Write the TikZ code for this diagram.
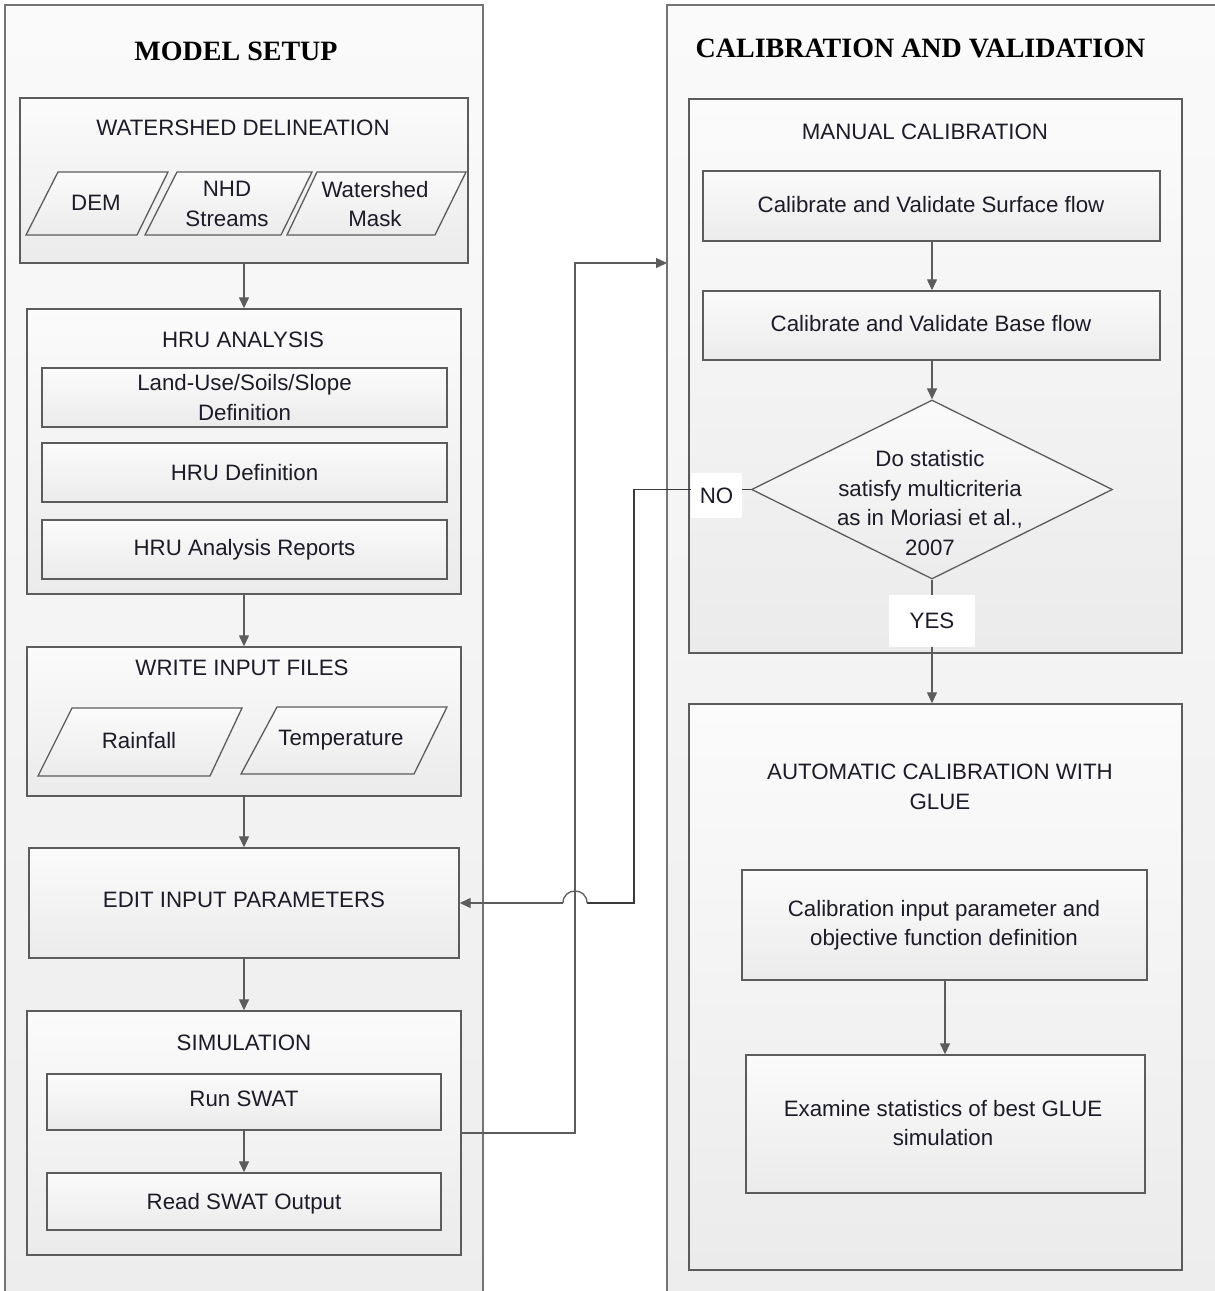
\documentclass[tikz,border=0pt]{standalone}
\usepackage{fontspec}
\setmainfont{Liberation Sans}
\newfontfamily\ttlfont{Liberation Serif}
\usetikzlibrary{arrows.meta,shapes.geometric}
\definecolor{ln}{HTML}{5C5C5C}
\definecolor{dk}{HTML}{3A3A3A}
\definecolor{txtc}{HTML}{1C1C28}
\definecolor{gtop}{HTML}{FBFBFB}
\definecolor{gbot}{HTML}{EBEBEB}
\definecolor{otop}{HTML}{FAFAFA}
\definecolor{obot}{HTML}{EDEDED}
\newcommand\mkbox[6][box]{%
  \node[#1, minimum width={#5-#3}, minimum height={#6-#4}] (#2) at ({(#3+#5)/2},{(#4+#6)/2}) {};}
\begin{document}
\begin{tikzpicture}[x=1pt,y=-1pt,
  box/.style={draw=ln, line width=1.4pt, top color=gtop, bottom color=gbot, inner sep=0pt, shape=rectangle},
  outer/.style={draw=ln!85, line width=1.4pt, top color=otop, bottom color=obot},
  para/.style={draw=ln, line width=1.3pt, top color=gtop, bottom color=gbot},
  txt/.style={text=txtc, font=\fontsize{22.3}{29.5}\selectfont, align=center, inner sep=0pt},
  ttl/.style={text=black, font=\ttlfont\bfseries\fontsize{28}{32}\selectfont, inner sep=0pt},
  arr/.style={draw=ln, line width=1.3pt, -{Triangle[length=11pt,width=10pt]}},
  plain/.style={draw=ln, line width=1.3pt},
  noln/.style={draw=dk, line width=1.3pt},
  lbl/.style={fill=white, text=txtc, font=\fontsize{22.3}{26}\selectfont, inner sep=0pt},
  dia/.style={draw=ln, line width=1.3pt, shape=diamond, inner sep=0pt, top color=gtop, bottom color=gbot}
]
\useasboundingbox (0,0) rectangle (1215,1291);
\clip (0,0) rectangle (1215,1291);
\fill[white] (0,0) rectangle (1215,1291);

% outer containers
\path[outer] (5,1310) -- (5,5) -- (483,5) -- (483,1310);
\path[outer] (667,1310) -- (667,5) -- (1230,5) -- (1230,1310);
\node[ttl] (msT) at (236,51) {MODEL SETUP};
\node[ttl] (cvT) at (920.5,48) {CALIBRATION AND VALIDATION};

% ---------------- left column
\mkbox{wd}{20}{98}{468}{263}
\node[txt] (wdT) at (243,128) {WATERSHED DELINEATION};
\path[para] (26,235) -- (137,235) -- (168,172) -- (58,172) -- cycle;
\node[txt] (dem) at (96,203) {DEM};
\path[para] (145,235) -- (281,235) -- (312,172) -- (177,172) -- cycle;
\node[txt] (nhd) at (227,204) {NHD\\Streams};
\path[para] (287,235) -- (435,235) -- (466,172) -- (317,172) -- cycle;
\node[txt] (msk) at (375,204) {Watershed\\Mask};

\mkbox{hru}{27}{309}{461}{594}
\node[txt] (hruT) at (243,340) {HRU ANALYSIS};
\mkbox{lus}{42}{368}{447}{427}
\node[txt] at (lus.center) {Land-Use/Soils/Slope\\Definition};
\mkbox{hdef}{42}{443}{447}{502}
\node[txt] at (hdef.center) {HRU Definition};
\mkbox{hrep}{42}{520}{447}{579}
\node[txt] at (hrep.center) {HRU Analysis Reports};

\mkbox{wif}{27}{647}{461}{796}
\node[txt] (wifT) at (242,668) {WRITE INPUT FILES};
\path[para] (38,776) -- (210,776) -- (242,708) -- (72,708) -- cycle;
\node[txt] (rain) at (139,741) {Rainfall};
\path[para] (241,774) -- (414,774) -- (447,707) -- (277,707) -- cycle;
\node[txt] (temp) at (341,740) {Temperature};

\mkbox{eip}{29}{848}{459}{958}
\node[txt] at (244,900) {EDIT INPUT PARAMETERS};

\mkbox{sim}{27}{1011}{461}{1255}
\node[txt] (simT) at (244,1043) {SIMULATION};
\mkbox{run}{47}{1074}{441}{1130}
\node[txt] at (244,1099) {Run SWAT};
\mkbox{read}{47}{1173}{441}{1230}
\node[txt] at (244,1204) {Read SWAT Output};

\draw[arr] (wd.south) -- (hru.north);
\draw[arr] (hru.south) -- (wif.north);
\draw[arr] (wif.south) -- (eip.north);
\draw[arr] (eip.south) -- (sim.north);
\draw[arr] (run.south) -- (read.north);

% ---------------- right column
\mkbox{man}{689}{99}{1182}{653}
\node[txt] (manT) at (925,132) {MANUAL CALIBRATION};
\mkbox{sf}{703}{171}{1160}{241}
\node[txt] at (931,205) {Calibrate and Validate Surface flow};
\mkbox{bf}{703}{291}{1160}{360}
\node[txt] at (931,324) {Calibrate and Validate Base flow};
\node[dia, minimum width=361pt, minimum height=179pt] (dia) at (932,489.5) {};
\node[txt] (diaT) at (930,503) {Do statistic\\satisfy multicriteria\\as in Moriasi et al.,\\2007};

\mkbox{auto}{689}{704}{1182}{1270}
\node[txt] (autoT) at (940,787) {AUTOMATIC CALIBRATION WITH\\GLUE};
\mkbox{cip}{742}{870}{1147}{980}
\node[txt] at (944,925) {Calibration input parameter and\\objective function definition};
\mkbox{exa}{746}{1055}{1145}{1193}
\node[txt] at (943,1123) {Examine statistics of best GLUE\\simulation};

\draw[arr] (sf.south -| dia.north) -- (bf.north -| dia.north);
\draw[arr] (bf.south -| dia.north) -- (dia.north);

\node[lbl, minimum width=86pt, minimum height=52pt] (yes) at (932,621) {YES};
\node[lbl, minimum width=51pt, minimum height=45pt] (no) at (716.5,495.5) {NO};

\draw[plain] (dia.south) -- (yes.north);
\draw[arr] (yes.south) -- (yes.south |- auto.north);
\draw[arr] (cip.south -| 945,0) -- (exa.north -| 945,0);

% feedback connectors
\coordinate (trunk) at (575,0);
\coordinate (noX) at (634,0);
\coordinate (cvin) at (667,263);
\draw[arr] (sim.east) -- (sim.east -| trunk) -- (trunk |- cvin) -- (cvin);
\coordinate (hopR) at (587,903);
\coordinate (hopL) at (563,903);
\draw[noln] (dia.west) -- (no.east |- dia.west);
\draw[noln] (no.west |- dia.west) -- (noX |- dia.west) -- (noX |- eip.east) -- (hopR);
\draw[plain] (hopR) .. controls (587,887) and (563,887) .. (hopL);
\draw[arr] (hopL) -- (eip.east);
\end{tikzpicture}
\end{document}
